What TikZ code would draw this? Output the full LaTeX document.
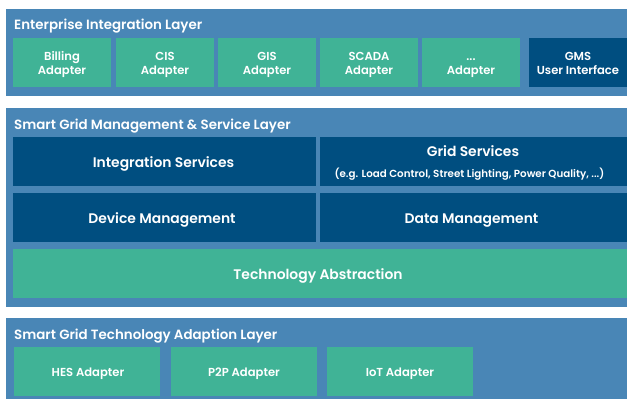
\documentclass[tikz,border=0pt]{standalone}
\usepackage{fontspec}
\setmainfont{Poppins}[BoldFont={Poppins SemiBold}]
\definecolor{panelblue}{RGB}{73,134,182}
\definecolor{boxgreen}{RGB}{64,179,150}
\definecolor{boxnavy}{RGB}{0,78,128}
\tikzset{
  panel/.style={fill=panelblue, draw=none, anchor=north west, inner sep=0pt},
  gbox/.style={fill=boxgreen, draw=none, anchor=north west, inner sep=0pt},
  nbox/.style={fill=boxnavy, draw=none, anchor=north west, inner sep=0pt},
  lbl/.style={text=white, anchor=base, inner sep=0pt, font=\fontsize{11.6}{14}\selectfont\bfseries},
  biglbl/.style={text=white, anchor=base, inner sep=0pt, font=\fontsize{13.9}{16}\selectfont\bfseries},
  smalllbl/.style={text=white, anchor=base, inner sep=0pt, font=\fontsize{10.3}{12}\selectfont\bfseries},
  layertitle/.style={text=white, anchor=base west, inner sep=0pt, font=\fontsize{13.4}{15}\selectfont\bfseries},
}
\begin{document}
\begin{tikzpicture}[x=1pt,y=-1pt]
\useasboundingbox (0,0) rectangle (627,399);
\fill[white] (0,0) rectangle (627,399);
% panels
\node[panel, minimum width=621pt, minimum height=87pt] (p1) at (6,9) {};
\node[panel, minimum width=621pt, minimum height=199pt] (p2) at (6,108) {};
\node[panel, minimum width=621pt, minimum height=81pt] (p3) at (6,318) {};
% titles
\node[layertitle] (t1) at (14,29) {Enterprise Integration Layer};
\node[layertitle] (t2) at (14,129.3) {Smart Grid Management \& Service Layer};
\node[layertitle] (t3) at (14,339) {Smart Grid Technology Adaption Layer};
% enterprise row
\node[gbox, minimum width=98pt, minimum height=49pt] (billing) at (13,38) {};
\node[gbox, minimum width=98pt, minimum height=49pt] (cis) at (116,38) {};
\node[gbox, minimum width=98pt, minimum height=49pt] (gis) at (218,38) {};
\node[gbox, minimum width=98pt, minimum height=49pt] (scada) at (320,38) {};
\node[gbox, minimum width=98pt, minimum height=49pt] (dots) at (422,38) {};
\node[nbox, minimum width=98pt, minimum height=49pt] (gms) at (529,38) {};
\node[lbl] (billing1) at (62,60.7) {Billing};
\node[lbl] (billing2) at (62,74.3) {Adapter};
\node[lbl] (cis1) at (165,60.7) {CIS};
\node[lbl] (cis2) at (165,74.3) {Adapter};
\node[lbl] (gis1) at (267,60.7) {GIS};
\node[lbl] (gis2) at (267,74.3) {Adapter};
\node[lbl] (scada1) at (369,60.7) {SCADA};
\node[lbl] (scada2) at (369,74.3) {Adapter};
\node[lbl] (dots1) at (471,60.7) {...};
\node[lbl] (dots2) at (471,74.3) {Adapter};
\node[lbl] (gms1) at (578,60.7) {GMS};
\node[lbl] (gms2) at (578,74.3) {User Interface};
% management layer
\node[nbox, minimum width=303pt, minimum height=49pt] (integ) at (13,137) {};
\node[nbox, minimum width=307pt, minimum height=49pt] (grid) at (320,137) {};
\node[nbox, minimum width=303pt, minimum height=49pt] (device) at (13,193) {};
\node[nbox, minimum width=307pt, minimum height=49pt] (data) at (320,193) {};
\node[gbox, minimum width=614pt, minimum height=49pt] (tech) at (13,249) {};
\node[biglbl] (integt) at (163.5,167.5) {Integration Services};
\node[biglbl] (gridt) at (473,156.7) {Grid Services};
\node[smalllbl] (grids) at (469.5,177.7) {(e.g. Load Control, Street Lighting, Power Quality, ...)};
\node[biglbl] (devicet) at (162,223.3) {Device Management};
\node[biglbl] (datat) at (471.5,223.3) {Data Management};
\node[biglbl] (techt) at (318,279.3) {Technology Abstraction};
% adaption layer
\node[gbox, minimum width=146pt, minimum height=49pt] (hes) at (14,347) {};
\node[gbox, minimum width=146pt, minimum height=49pt] (p2p) at (171,347) {};
\node[gbox, minimum width=146pt, minimum height=49pt] (iot) at (327,347) {};
\node[lbl] (hest) at (88,376) {HES Adapter};
\node[lbl] (p2pt) at (244,376) {P2P Adapter};
\node[lbl] (iott) at (400,376) {IoT Adapter};
\end{tikzpicture}
\end{document}
